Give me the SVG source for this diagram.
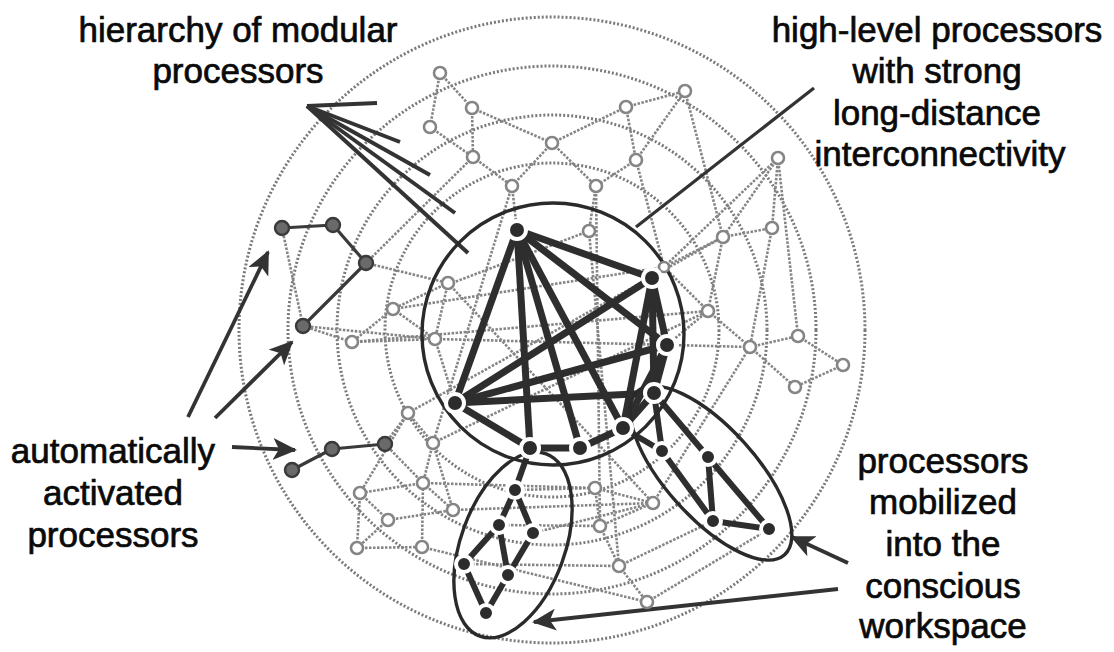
<svg xmlns="http://www.w3.org/2000/svg" width="1114" height="652" viewBox="0 0 1114 652">
<defs>
<style>
.ring{fill:none;stroke:#7a7a7a;stroke-width:3;stroke-dasharray:2 2}
.ge{stroke:#858585;stroke-width:2.6;stroke-dasharray:2.5 1.5;fill:none}
.gn{fill:#fff;stroke:#858585;stroke-width:2.6}
.dn{fill:#2c2c2c;stroke:#fff;stroke-width:4}
.an{fill:#6a6a6a;stroke:#3a3a3a;stroke-width:2.4}
.te{stroke:#2e2e2e;stroke-width:7;stroke-linecap:butt}
.me{stroke:#2e2e2e;stroke-width:6}
.ae{stroke:#3a3a3a;stroke-width:3.2}
.ptr{stroke:#333;stroke-width:4;fill:none}
.arr{stroke:#333;stroke-width:3.8;fill:none;marker-end:url(#ah)}
.bound{fill:none;stroke:#2a2a2a;stroke-width:3.4}
.lbl{font-family:"Liberation Sans",Arial,sans-serif;font-size:35px;fill:#0a0a0a;stroke:#0a0a0a;stroke-width:0.7;text-anchor:middle}
</style>
<marker id="ah" markerUnits="userSpaceOnUse" markerWidth="26" markerHeight="22" refX="22" refY="11" orient="auto">
<path d="M0,0 L24,11 L0,22 L6,11 z" fill="#333"/>
</marker>
</defs>
<rect width="1114" height="652" fill="#fff"/>

<g id="rings">
<circle class="ring" cx="552" cy="330" r="313"/>
<circle class="ring" cx="552" cy="330" r="264"/>
<circle class="ring" cx="552" cy="330" r="215"/>
<circle class="ring" cx="552" cy="330" r="167"/>
</g>

<g id="connectors">
<g id="gray-edges">
<line class="ge" x1="440" y1="73" x2="472" y2="108"/>
<line class="ge" x1="440" y1="73" x2="430" y2="127"/>
<line class="ge" x1="472" y1="108" x2="473" y2="157"/>
<line class="ge" x1="430" y1="127" x2="473" y2="157"/>
<line class="ge" x1="472" y1="108" x2="552" y2="143"/>
<line class="ge" x1="473" y1="157" x2="512" y2="186"/>
<line class="ge" x1="552" y1="143" x2="512" y2="186"/>
<line class="ge" x1="552" y1="143" x2="596" y2="186"/>
<line class="ge" x1="552" y1="143" x2="626" y2="107"/>
<line class="ge" x1="626" y1="107" x2="636" y2="160"/>
<line class="ge" x1="636" y1="160" x2="596" y2="186"/>
<line class="ge" x1="626" y1="107" x2="685" y2="91"/>
<line class="ge" x1="636" y1="160" x2="685" y2="91"/>
<line class="ge" x1="596" y1="186" x2="589" y2="231"/>
<line class="ge" x1="512" y1="186" x2="517" y2="230"/>
<line class="ge" x1="685" y1="91" x2="723" y2="237"/>
<line class="ge" x1="778" y1="158" x2="664" y2="267"/>
<line class="ge" x1="778" y1="158" x2="723" y2="237"/>
<line class="ge" x1="778" y1="158" x2="772" y2="228"/>
<line class="ge" x1="778" y1="158" x2="798" y2="336"/>
<line class="ge" x1="723" y1="237" x2="772" y2="228"/>
<line class="ge" x1="723" y1="237" x2="708" y2="311"/>
<line class="ge" x1="664" y1="267" x2="723" y2="237"/>
<line class="ge" x1="664" y1="267" x2="708" y2="311"/>
<line class="ge" x1="772" y1="228" x2="750" y2="347"/>
<line class="ge" x1="708" y1="311" x2="750" y2="347"/>
<line class="ge" x1="750" y1="347" x2="798" y2="336"/>
<line class="ge" x1="798" y1="336" x2="843" y2="365"/>
<line class="ge" x1="843" y1="365" x2="795" y2="387"/>
<line class="ge" x1="750" y1="347" x2="795" y2="387"/>
<line class="ge" x1="708" y1="311" x2="667" y2="345"/>
<line class="ge" x1="282" y1="228" x2="303" y2="326"/>
<line class="ge" x1="366" y1="263" x2="448" y2="283"/>
<line class="ge" x1="303" y1="326" x2="352" y2="342"/>
<line class="ge" x1="303" y1="326" x2="435" y2="339"/>
<line class="ge" x1="448" y1="283" x2="393" y2="309"/>
<line class="ge" x1="448" y1="283" x2="435" y2="339"/>
<line class="ge" x1="393" y1="309" x2="352" y2="342"/>
<line class="ge" x1="393" y1="309" x2="435" y2="339"/>
<line class="ge" x1="352" y1="342" x2="435" y2="339"/>
<line class="ge" x1="435" y1="339" x2="455" y2="403"/>
<line class="ge" x1="408" y1="413" x2="433" y2="443"/>
<line class="ge" x1="408" y1="413" x2="360" y2="493"/>
<line class="ge" x1="385" y1="444" x2="408" y2="413"/>
<line class="ge" x1="385" y1="444" x2="423" y2="483"/>
<line class="ge" x1="433" y1="443" x2="423" y2="483"/>
<line class="ge" x1="423" y1="483" x2="360" y2="493"/>
<line class="ge" x1="360" y1="493" x2="388" y2="520"/>
<line class="ge" x1="423" y1="483" x2="453" y2="510"/>
<line class="ge" x1="388" y1="520" x2="453" y2="510"/>
<line class="ge" x1="388" y1="520" x2="357" y2="548"/>
<line class="ge" x1="357" y1="548" x2="422" y2="547"/>
<line class="ge" x1="422" y1="547" x2="423" y2="483"/>
<line class="ge" x1="360" y1="493" x2="357" y2="548"/>
<line class="ge" x1="433" y1="443" x2="453" y2="510"/>
<line class="ge" x1="595" y1="488" x2="600" y2="526"/>
<line class="ge" x1="600" y1="526" x2="619" y2="566"/>
<line class="ge" x1="619" y1="566" x2="647" y2="602"/>
<line class="ge" x1="595" y1="488" x2="653" y2="503"/>
<line class="ge" x1="653" y1="503" x2="600" y2="526"/>
<line class="ge" x1="653" y1="503" x2="750" y2="347"/>
<line class="ge" x1="619" y1="566" x2="713" y2="521"/>
<line class="ge" x1="647" y1="602" x2="769" y2="529"/>
<line class="ge" x1="393" y1="309" x2="664" y2="267"/>
<line class="ge" x1="352" y1="342" x2="708" y2="311"/>
<line class="ge" x1="435" y1="339" x2="750" y2="347"/>
<line class="ge" x1="448" y1="283" x2="653" y2="503"/>
<line class="ge" x1="408" y1="413" x2="723" y2="237"/>
<line class="ge" x1="433" y1="443" x2="708" y2="311"/>
<line class="ge" x1="423" y1="483" x2="595" y2="488"/>
<line class="ge" x1="453" y1="510" x2="653" y2="503"/>
<line class="ge" x1="589" y1="231" x2="619" y2="566"/>
<line class="ge" x1="512" y1="186" x2="433" y2="443"/>
<line class="ge" x1="596" y1="186" x2="600" y2="526"/>
<line class="ge" x1="422" y1="547" x2="647" y2="602"/>
<line class="ge" x1="515" y1="490" x2="595" y2="488"/>
<line class="ge" x1="499" y1="525" x2="600" y2="526"/>
<line class="ge" x1="533" y1="533" x2="653" y2="503"/>
<line class="ge" x1="464" y1="564" x2="619" y2="566"/>
<line class="ge" x1="589" y1="231" x2="452" y2="283"/>
<line class="ge" x1="636" y1="160" x2="664" y2="267"/>
<line class="ge" x1="473" y1="157" x2="366" y2="263"/>
</g>

<g id="workspace-edges">
<line class="te" x1="517" y1="230" x2="652" y2="278"/>
<line class="te" x1="517" y1="230" x2="667" y2="345"/>
<line class="te" x1="517" y1="230" x2="623" y2="428"/>
<line class="te" x1="517" y1="230" x2="580" y2="448"/>
<line class="te" x1="517" y1="230" x2="530" y2="448"/>
<line class="te" x1="517" y1="230" x2="455" y2="403"/>
<line class="te" x1="455" y1="403" x2="652" y2="278"/>
<line class="te" x1="455" y1="403" x2="667" y2="345"/>
<line class="te" x1="455" y1="403" x2="654" y2="393"/>
<line class="te" x1="455" y1="403" x2="530" y2="448"/>
<line class="te" x1="652" y1="278" x2="654" y2="393"/>
<line class="te" x1="652" y1="278" x2="667" y2="345"/>
<line class="te" x1="667" y1="345" x2="654" y2="393"/>
<line class="te" x1="652" y1="278" x2="623" y2="428"/>
<line class="te" x1="667" y1="345" x2="623" y2="428"/>
<line class="te" x1="654" y1="393" x2="623" y2="428"/>
<line class="te" x1="623" y1="428" x2="580" y2="448"/>
<line class="te" x1="580" y1="448" x2="530" y2="448"/>
</g>

<g id="mobilized-edges">
<line class="me" x1="530" y1="448" x2="515" y2="490"/>
<line class="me" x1="515" y1="490" x2="499" y2="525"/>
<line class="me" x1="515" y1="490" x2="533" y2="533"/>
<line class="me" x1="499" y1="525" x2="464" y2="564"/>
<line class="me" x1="499" y1="525" x2="508" y2="575"/>
<line class="me" x1="533" y1="533" x2="508" y2="575"/>
<line class="me" x1="464" y1="564" x2="486" y2="613"/>
<line class="me" x1="508" y1="575" x2="486" y2="613"/>
<line class="me" x1="654" y1="393" x2="662" y2="451"/>
<line class="me" x1="654" y1="393" x2="708" y2="457"/>
<line class="me" x1="623" y1="428" x2="662" y2="451"/>
<line class="me" x1="662" y1="451" x2="713" y2="521"/>
<line class="me" x1="708" y1="457" x2="713" y2="521"/>
<line class="me" x1="708" y1="457" x2="769" y2="529"/>
<line class="me" x1="713" y1="521" x2="769" y2="529"/>
</g>

<g id="auto-edges">
<line class="ae" x1="282" y1="228" x2="333" y2="225"/>
<line class="ae" x1="333" y1="225" x2="366" y2="263"/>
<line class="ae" x1="366" y1="263" x2="303" y2="326"/>
<line class="ae" x1="292" y1="470" x2="332" y2="449"/>
<line class="ae" x1="332" y1="449" x2="385" y2="444"/>
</g>

<g id="pointers">
<line class="ptr" x1="307" y1="106" x2="377" y2="103"/>
<line class="ptr" x1="307" y1="106" x2="400" y2="142"/>
<line class="ptr" x1="307" y1="106" x2="430" y2="175"/>
<line class="ptr" x1="307" y1="106" x2="455" y2="213"/>
<line class="ptr" x1="307" y1="106" x2="468" y2="253"/>
<line class="ptr" x1="636" y1="227" x2="814" y2="88" style="stroke-width:3.2"/>
<line class="arr" x1="188" y1="417" x2="268" y2="252"/>
<line class="arr" x1="215" y1="418" x2="292" y2="342"/>
<line class="arr" x1="232" y1="447" x2="295" y2="450"/>
<line class="arr" x1="848" y1="563" x2="792" y2="537"/>
<line class="arr" x1="838" y1="589" x2="534" y2="622"/>
</g>
</g>

<g id="workspace-boundary">
<circle class="bound" cx="553" cy="334" r="131"/>
</g>
<g id="ellipse-left">
<ellipse class="bound" cx="513" cy="545" rx="52" ry="97" transform="rotate(20 513 545)"/>
</g>
<g id="ellipse-right">
<ellipse class="bound" cx="711" cy="473" rx="110" ry="45" transform="rotate(48 711 473)"/>
</g>

<g id="g1"><circle class="gn" cx="440" cy="73" r="6"/></g>
<g id="g2"><circle class="gn" cx="472" cy="108" r="6"/></g>
<g id="g3"><circle class="gn" cx="430" cy="127" r="6"/></g>
<g id="g4"><circle class="gn" cx="473" cy="157" r="6"/></g>
<g id="g5"><circle class="gn" cx="552" cy="143" r="6"/></g>
<g id="g6"><circle class="gn" cx="512" cy="186" r="6"/></g>
<g id="g7"><circle class="gn" cx="626" cy="107" r="6"/></g>
<g id="g8"><circle class="gn" cx="636" cy="160" r="6"/></g>
<g id="g9"><circle class="gn" cx="596" cy="186" r="6"/></g>
<g id="g10"><circle class="gn" cx="589" cy="231" r="6"/></g>
<g id="g11"><circle class="gn" cx="685" cy="91" r="6"/></g>
<g id="g12"><circle class="gn" cx="778" cy="158" r="6"/></g>
<g id="g13"><circle class="gn" cx="723" cy="237" r="6"/></g>
<g id="g14"><circle class="gn" cx="772" cy="228" r="6"/></g>
<g id="g15"><circle class="gn" cx="664" cy="267" r="5"/></g>
<g id="g16"><circle class="gn" cx="708" cy="311" r="6"/></g>
<g id="g17"><circle class="gn" cx="798" cy="336" r="6"/></g>
<g id="g18"><circle class="gn" cx="750" cy="347" r="6"/></g>
<g id="g19"><circle class="gn" cx="843" cy="365" r="6"/></g>
<g id="g20"><circle class="gn" cx="795" cy="387" r="6"/></g>
<g id="g21"><circle class="gn" cx="448" cy="283" r="6"/></g>
<g id="g22"><circle class="gn" cx="393" cy="309" r="6"/></g>
<g id="g23"><circle class="gn" cx="352" cy="342" r="6"/></g>
<g id="g24"><circle class="gn" cx="435" cy="339" r="6"/></g>
<g id="g25"><circle class="gn" cx="408" cy="413" r="6"/></g>
<g id="g26"><circle class="gn" cx="433" cy="443" r="6"/></g>
<g id="g27"><circle class="gn" cx="423" cy="483" r="6"/></g>
<g id="g28"><circle class="gn" cx="360" cy="493" r="6"/></g>
<g id="g29"><circle class="gn" cx="388" cy="520" r="6"/></g>
<g id="g30"><circle class="gn" cx="453" cy="510" r="6"/></g>
<g id="g31"><circle class="gn" cx="357" cy="548" r="6"/></g>
<g id="g32"><circle class="gn" cx="422" cy="547" r="6"/></g>
<g id="g33"><circle class="gn" cx="595" cy="488" r="6"/></g>
<g id="g34"><circle class="gn" cx="600" cy="526" r="6"/></g>
<g id="g35"><circle class="gn" cx="619" cy="566" r="6"/></g>
<g id="g36"><circle class="gn" cx="647" cy="602" r="6"/></g>
<g id="g37"><circle class="gn" cx="653" cy="503" r="6"/></g>

<g id="auto1"><circle class="an" cx="282" cy="228" r="7"/></g>
<g id="auto2"><circle class="an" cx="333" cy="225" r="7"/></g>
<g id="auto3"><circle class="an" cx="366" cy="263" r="7"/></g>
<g id="auto4"><circle class="an" cx="303" cy="326" r="7"/></g>
<g id="auto5"><circle class="an" cx="292" cy="470" r="7"/></g>
<g id="auto6"><circle class="an" cx="332" cy="449" r="7"/></g>
<g id="auto7"><circle class="an" cx="385" cy="444" r="7"/></g>

<g id="wA"><circle class="dn" cx="517" cy="230" r="9"/></g>
<g id="wB"><circle class="dn" cx="652" cy="278" r="9"/></g>
<g id="wC"><circle class="dn" cx="667" cy="345" r="9"/></g>
<g id="wD"><circle class="dn" cx="654" cy="393" r="9"/></g>
<g id="wE"><circle class="dn" cx="623" cy="428" r="9"/></g>
<g id="wF"><circle class="dn" cx="580" cy="448" r="9"/></g>
<g id="wG"><circle class="dn" cx="530" cy="448" r="9"/></g>
<g id="wH"><circle class="dn" cx="455" cy="403" r="9"/></g>
<g id="L1"><circle class="dn" cx="515" cy="490" r="8"/></g>
<g id="L2"><circle class="dn" cx="499" cy="525" r="8"/></g>
<g id="L3"><circle class="dn" cx="533" cy="533" r="8"/></g>
<g id="L4"><circle class="dn" cx="464" cy="564" r="8"/></g>
<g id="L5"><circle class="dn" cx="508" cy="575" r="8"/></g>
<g id="L6"><circle class="dn" cx="486" cy="613" r="8"/></g>
<g id="R1"><circle class="dn" cx="662" cy="451" r="8"/></g>
<g id="R2"><circle class="dn" cx="708" cy="457" r="8"/></g>
<g id="R3"><circle class="dn" cx="713" cy="521" r="8"/></g>
<g id="R4"><circle class="dn" cx="769" cy="529" r="8"/></g>

<g id="label-hierarchy">
<text class="lbl" x="238" y="42">hierarchy of modular</text>
<text class="lbl" x="238" y="83">processors</text>
</g>
<g id="label-highlevel">
<text class="lbl" x="937" y="42">high-level processors</text>
<text class="lbl" x="937" y="83">with strong</text>
<text class="lbl" x="937" y="125">long-distance</text>
<text class="lbl" x="940" y="166">interconnectivity</text>
</g>
<g id="label-automatic">
<text class="lbl" x="113" y="463">automatically</text>
<text class="lbl" x="113" y="505">activated</text>
<text class="lbl" x="113" y="547">processors</text>
</g>
<g id="label-mobilized">
<text class="lbl" x="943" y="473">processors</text>
<text class="lbl" x="943" y="514">mobilized</text>
<text class="lbl" x="943" y="556">into the</text>
<text class="lbl" x="943" y="598">conscious</text>
<text class="lbl" x="943" y="638">workspace</text>
</g>
</svg>
